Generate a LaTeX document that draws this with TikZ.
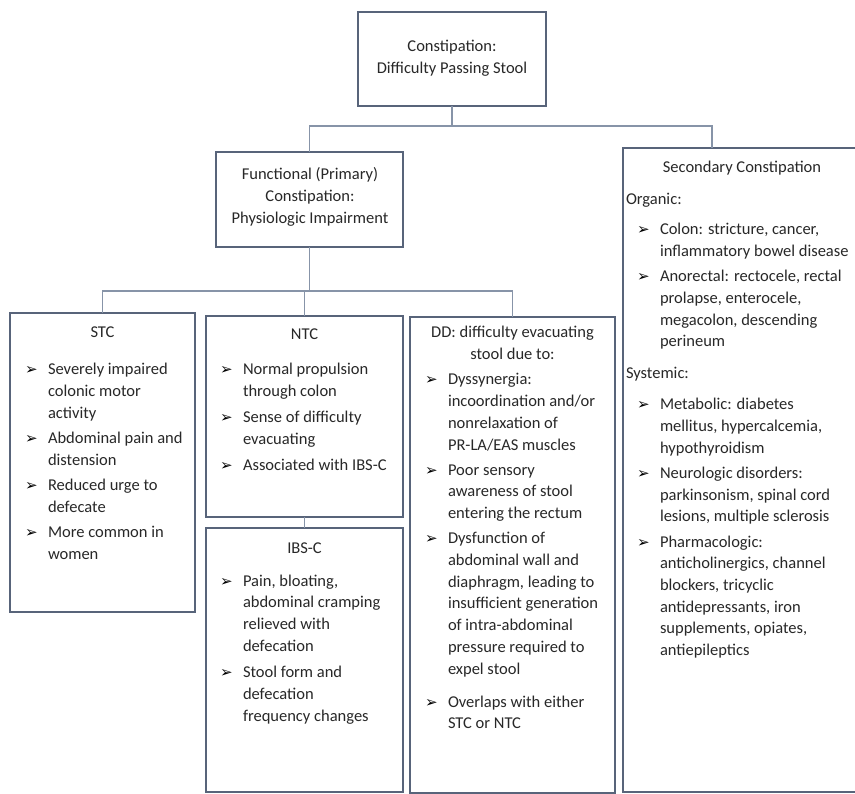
\documentclass[tikz,border=0pt]{standalone}
\usepackage{fontspec}
\setmainfont{Carlito}
\newfontfamily\symfont{DejaVu Sans}
\usetikzlibrary{fit}
\definecolor{boxc}{RGB}{88,100,122}
\definecolor{linec}{RGB}{135,148,168}
\definecolor{txt}{RGB}{40,40,40}
\newlength\bw \setlength\bw{23pt}
\newlength\lind
\newcommand\bi[1]{{\let\\\newline\hangindent=\dimexpr\lind+\bw\relax\hangafter=1\noindent\hspace*{\lind}\makebox[\bw][l]{\raisebox{0pt}{\fontsize{15}{15}\symfont\color{black}➢}}#1\par}}
\newcommand\fs{\fontsize{16.5}{21.7}\selectfont}
\tikzset{
 box/.style={draw=boxc, line width=1.6pt, fill=white, inner sep=0pt, outer sep=0pt},
 conn/.style={draw=linec, line width=1.6pt},
 txtn/.style={inner sep=0pt, outer sep=0pt, text=txt, anchor=base west},
 head/.style={inner sep=0pt, outer sep=0pt, text=txt, anchor=base},
}
\begin{document}
\begin{tikzpicture}[x=1pt,y=-1pt,font=\fs]
\useasboundingbox (0,0) rectangle (855,794);
\fill[white] (0,0) rectangle (855,794);
% connector junction coordinates
\coordinate (h1) at (0,126);
\coordinate (h2) at (0,291);
\coordinate (secin) at (712,148);
% boxes
\node[box, fit={(358,12) (546,106)}] (top) {};
\node[box, fit={(216,152) (403,247)}] (func) {};
\node[box, fit={(623,148) (880,792)}] (sec) {};
\node[box, fit={(10,313) (195,612)}] (stc) {};
\node[box, fit={(206,316) (403,517)}] (ntc) {};
\node[box, fit={(206,528) (403,792)}] (ibs) {};
\node[box, fit={(410,317) (615,793)}] (dd) {};
% connectors
\draw[conn] (top.south) -- (top.south |- h1);
\draw[conn] (func.north) -- (func.north |- h1) -- (secin |- h1) -- (secin);
\draw[conn] (func.south) -- (func.south |- h2);
\draw[conn] (stc.north) -- (stc.north |- h2) -- (dd.north |- h2) -- (dd.north);
\draw[conn] (ntc.north |- h2) -- (ntc.north);
\draw[conn] (ntc.south) -- (ibs.north);
% texts
\node[head] (topT) at (452,52) {\parbox[t]{200pt}{\centering Constipation:\\Difficulty Passing Stool}};
\node[head] (funcT) at (310,180) {\parbox[t]{200pt}{\centering Functional (Primary)\\Constipation:\\Physiologic Impairment}};
\node[head] (stcH) at (102.5,338) {STC};
\node[head] (ntcH) at (304.5,340) {NTC};
\node[head] (ibsH) at (304.5,553) {IBS-C};
\node[head] (ddH) at (512.5,338) {\parbox[t]{220pt}{\centering DD: difficulty evacuating\\stool due to:}};
\node[head] (secH) at (742,173) {Secondary Constipation};

\node[txtn] (stcL) at (25,375) {\parbox[t]{185pt}{\raggedright\setlength\parskip{3.5pt}\setlength\lind{0pt}%
\bi{Severely impaired\\colonic motor\\activity}
\bi{Abdominal pain and\\distension}
\bi{Reduced urge to\\defecate}
\bi{More common in\\women}}};

\node[txtn] (ntcL) at (220,375) {\parbox[t]{200pt}{\raggedright\setlength\parskip{4.3pt}\setlength\lind{0pt}%
\bi{Normal propulsion\\through colon}
\bi{Sense of difficulty\\evacuating}
\bi{Associated with IBS-C}}};

\node[txtn] (ibsL) at (220,586) {\parbox[t]{200pt}{\raggedright\setlength\parskip{5pt}\setlength\lind{0pt}%
\bi{Pain, bloating,\\abdominal cramping\\relieved with\\defecation}
\bi{Stool form and\\defecation\\frequency changes}}};

\node[txtn] (ddL) at (425,385) {\parbox[t]{220pt}{\raggedright\setlength\parskip{3.5pt}\setlength\lind{0pt}%
\bi{Dyssynergia:\\incoordination and/or\\nonrelaxation of\\PR-LA/EAS muscles}
\bi{Poor sensory\\awareness of stool\\entering the rectum}
\bi{Dysfunction of\\abdominal wall and\\diaphragm, leading to\\insufficient generation\\of intra-abdominal\\pressure required to\\expel stool}
\vspace{8pt}
\bi{Overlaps with either\\STC or NTC}}};

\node[txtn] (secL) at (626,205) {\parbox[t]{240pt}{\raggedright\setlength\parskip{3.5pt}\setlength\lind{11pt}%
\noindent Organic:\par
\vspace{4.8pt}
\bi{Colon: stricture, cancer,\\inflammatory bowel disease}
\bi{Anorectal: rectocele, rectal\\prolapse, enterocele,\\megacolon, descending\\perineum}
\vspace{6.8pt}
\noindent Systemic:\par
\vspace{5.8pt}
\bi{Metabolic: diabetes\\mellitus, hypercalcemia,\\hypothyroidism}
\bi{Neurologic disorders:\\parkinsonism, spinal cord\\lesions, multiple sclerosis}
\bi{Pharmacologic:\\anticholinergics, channel\\blockers, tricyclic\\antidepressants, iron\\supplements, opiates,\\antiepileptics}}};
\end{tikzpicture}
\end{document}
